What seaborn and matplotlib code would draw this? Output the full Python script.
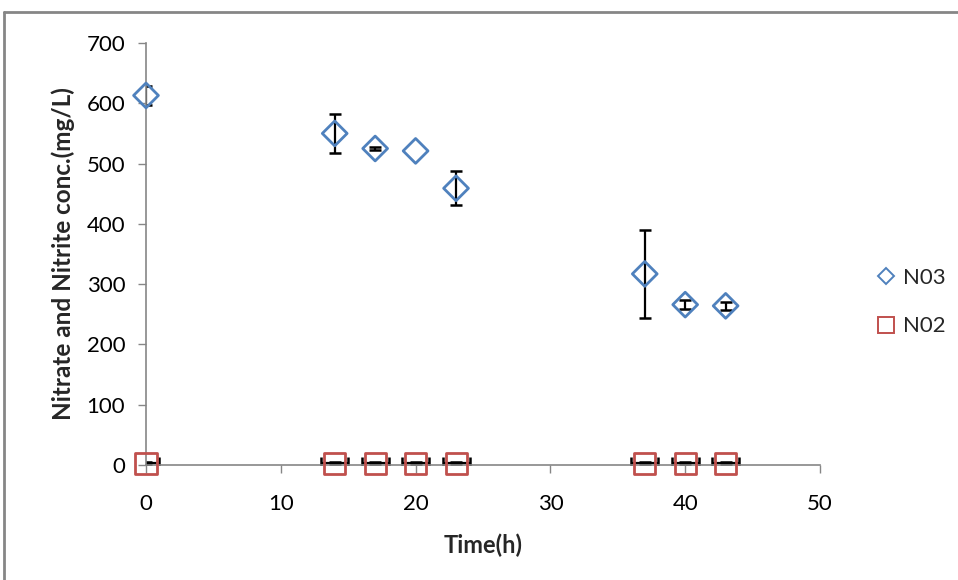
import matplotlib
matplotlib.use("Agg")
import matplotlib.pyplot as plt
from matplotlib.lines import Line2D
import seaborn as sns
import pandas as pd
import numpy as np

# ---- data ----
time_h = [0, 14, 17, 20, 23, 37, 40, 43]
no3 = [613, 550, 525, 521, 459, 317, 266, 264]
no3_err = [16, 32, 3, 0, 28, 73, 7, 7]
no2 = [3, 3, 3, 3, 3, 3, 3, 3]
no2_yerr = [1.5, 1.5, 1.5, 1.5, 1.5, 1.5, 1.5, 1.5]
no2_xerr = [1, 1, 1, 1, 1, 1, 1, 1]
series_names = ["N03", "N02"]
x_ticks = [0, 10, 20, 30, 40, 50]
y_ticks = [0, 100, 200, 300, 400, 500, 600, 700]

df = pd.DataFrame({
    "Time": time_h * 2,
    "Conc": no3 + no2,
    "Series": [series_names[0]] * len(time_h) + [series_names[1]] * len(time_h),
})

sns.set_theme(style="white")
plt.rcParams["font.family"] = ["Lato", "DejaVu Sans"]

fig = plt.figure(figsize=(9.58, 5.8), dpi=100)
ax = fig.add_axes([146 / 958, 1 - 465 / 580, (820 - 146) / 958, (465 - 43) / 580])

blue = "#4F81BD"
red = "#C0504D"
gray = "#868686"

# error bars (drawn first); skip zero-length bars
t = np.array(time_h)
e3 = np.array(no3_err)
m = e3 > 0
ax.errorbar(t[m], np.array(no3)[m], yerr=e3[m], fmt="none", ecolor="black",
            elinewidth=1.6, capsize=4.5, capthick=1.8, zorder=2)
ax.errorbar(time_h, no2, xerr=no2_xerr, yerr=no2_yerr, fmt="none", ecolor="black",
            elinewidth=1.6, capsize=4.0, capthick=1.8, zorder=2)

# markers via seaborn
palette = {series_names[0]: blue, series_names[1]: red}
markers = {series_names[0]: "D", series_names[1]: "s"}
for name, s in [(series_names[0], 160), (series_names[1], 230)]:
    sub = df[df["Series"] == name]
    sns.scatterplot(data=sub, x="Time", y="Conc", ax=ax, marker=markers[name],
                    s=s, facecolor="none", edgecolor=palette[name], linewidth=2.0,
                    zorder=3, clip_on=False, legend=False)

ax.set_xlim(0, 50)
ax.set_ylim(0, 700)
ax.set_xticks(x_ticks)
ax.set_yticks(y_ticks)
ax.tick_params(axis="both", which="major", direction="out", length=6, width=1,
               color=gray, labelsize=16, labelcolor="black", bottom=True, left=True)
ax.tick_params(axis="y", pad=9)
ax.tick_params(axis="x", pad=15)

for sp in ["top", "right"]:
    ax.spines[sp].set_visible(False)
for sp in ["left", "bottom"]:
    ax.spines[sp].set_color(gray)
    ax.spines[sp].set_linewidth(1.2)

ax.set_xlabel("Time(h)", fontsize=17, fontweight="bold", labelpad=14)
ax.set_ylabel("Nitrate and Nitrite conc.(mg/L)", fontsize=17.5, fontweight="bold", labelpad=8)

handles = [
    Line2D([], [], linestyle="none", marker="D", markersize=8, markerfacecolor="none",
           markeredgecolor=blue, markeredgewidth=1.4, label=series_names[0]),
    Line2D([], [], linestyle="none", marker="s", markersize=11, markerfacecolor="none",
           markeredgecolor=red, markeredgewidth=1.4, label=series_names[1]),
]
fig.legend(handles=handles, loc="center left", bbox_to_anchor=(857 / 958, 1 - 302 / 580),
           frameon=False, fontsize=16, handlelength=0.8, handletextpad=0.35,
           labelspacing=1.3)

# outer frame lines
fig.add_artist(Line2D([4 / 958, 1.0], [1 - 12 / 580, 1 - 12 / 580], color=gray, linewidth=2,
                      transform=fig.transFigure))
fig.add_artist(Line2D([4 / 958, 4 / 958], [0.0, 1 - 12 / 580], color=gray, linewidth=2,
                      transform=fig.transFigure))

fig.savefig("out.png", dpi=100)
